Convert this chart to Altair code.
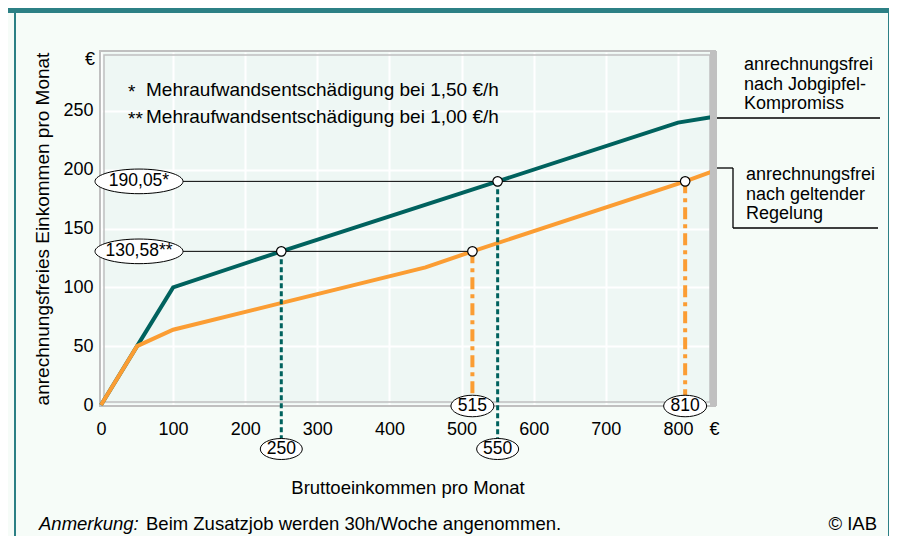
import altair as alt
import pandas as pd

# ---------------- data ----------------
teal_x = [0, 50, 100, 250, 550, 800, 850]
teal_y = [0, 50, 100, 130.58, 190.05, 240, 245]
orange_x = [0, 50, 100, 450, 515, 810, 850]
orange_y = [0, 50, 64, 117, 130.58, 190.05, 199]

ref_levels = [190.05, 130.58]
ref_labels = ["190,05*", "130,58**"]
ref_end_x = [810, 515]

teal_drop_x = [250, 550]
teal_drop_y = [130.58, 190.05]
teal_drop_labels = ["250", "550"]
orange_drop_x = [515, 810]
orange_drop_y = [130.58, 190.05]
orange_drop_labels = ["515", "810"]

x_ticks = [0, 100, 200, 300, 400, 500, 600, 700, 800, 850]
y_ticks = [0, 50, 100, 150, 200, 250]

note_marks = ["*", "**"]
note_lines = ["Mehraufwandsentschädigung bei 1,50 €/h",
              "Mehraufwandsentschädigung bei 1,00 €/h"]
right_text_1 = ["anrechnungsfrei", "nach Jobgipfel-", "Kompromiss"]
right_text_2 = ["anrechnungsfrei", "nach geltender", "Regelung"]

# ---------------- style ----------------
FONT = "Liberation Sans"
TEAL = "#00625e"
ORANGE = "#fb9d33"
FRAME = "#2c8085"
GRAYB = "#c0c0c0"
W, H = 613, 353

xs = alt.Scale(domain=[0, 850], nice=False, zero=False)
ys = alt.Scale(domain=[0, 300], nice=False, zero=False)

x_axis = alt.Axis(values=x_ticks, labelExpr="datum.value == 850 ? '€' : datum.label",
                  labelFontSize=18, labelPadding=15, labelFlush=False, labelOverlap=False,
                  ticks=False, domain=False, grid=True, gridColor="white", gridWidth=2,
                  title="Bruttoeinkommen pro Monat", titleFontSize=18.5, titleFontWeight="normal",
                  titleX=W / 2, titleY=82, titleBaseline="middle", titleAlign="center",
                  labelColor="black", titleColor="black", labelFont=FONT, titleFont=FONT)
y_axis = alt.Axis(values=y_ticks, labelFontSize=18, labelPadding=8, labelOverlap=False,
                  ticks=False, domain=False, grid=True, gridColor="white", gridWidth=2,
                  title="anrechnungsfreies Einkommen pro Monat", titleFontSize=19,
                  titleFontWeight="normal", titleX=-59, titleY=H / 2, titleAngle=270,
                  titleAlign="center", titleBaseline="middle",
                  labelColor="black", titleColor="black", labelFont=FONT, titleFont=FONT)


def X(field="x"):
    return alt.X(f"{field}:Q", scale=xs, axis=x_axis)


def Y(field="y"):
    return alt.Y(f"{field}:Q", scale=ys, axis=y_axis)


one = pd.DataFrame({"k": [0]})


def box(x, x2, y, y2, **kw):
    return alt.Chart(one).mark_rect(**kw).encode(
        x=alt.value(x), x2=alt.value(x2), y=alt.value(y), y2=alt.value(y2))


def seg(x, x2, y, y2, color="black", width=1.3):
    return alt.Chart(one).mark_rule(color=color, strokeWidth=width).encode(
        x=alt.value(x), x2=alt.value(x2), y=alt.value(y), y2=alt.value(y2))


def label(text, x, y, size=18, align="left", style="normal"):
    return alt.Chart(one).mark_text(text=text, font=FONT, fontSize=size, align=align,
                                    baseline="middle", color="black", fontStyle=style).encode(
        x=alt.value(x), y=alt.value(y))


# ---------------- layers ----------------
lines_df = pd.concat([
    pd.DataFrame({"x": teal_x, "y": teal_y, "s": "teal"}),
    pd.DataFrame({"x": orange_x, "y": orange_y, "s": "orange"}),
])

teal_line = alt.Chart(lines_df[lines_df.s == "teal"]).mark_line(
    color=TEAL, strokeWidth=4, strokeJoin="miter").encode(x=X(), y=Y())
orange_line = alt.Chart(lines_df[lines_df.s == "orange"]).mark_line(
    color=ORANGE, strokeWidth=4, strokeJoin="miter").encode(x=X(), y=Y())

ref_df = pd.DataFrame({"y": ref_levels, "x": ref_end_x, "lab": ref_labels})
ref_rules = alt.Chart(ref_df).mark_rule(color="black", strokeWidth=1).encode(
    x=X(), x2=alt.value(38), y=Y())

teal_df = pd.DataFrame({"x": teal_drop_x, "y": teal_drop_y, "lab": teal_drop_labels})
orange_df = pd.DataFrame({"x": orange_drop_x, "y": orange_drop_y, "lab": orange_drop_labels})

teal_drops = alt.Chart(teal_df).mark_rule(color=TEAL, strokeWidth=3, strokeDash=[5, 3]).encode(
    x=X(), y=Y(), y2=alt.value(387))
orange_drops = alt.Chart(orange_df).mark_rule(color=ORANGE, strokeWidth=4,
                                              strokeDash=[12, 5, 4, 5]).encode(
    x=X(), y=Y(), y2=alt.value(344))

pts_df = pd.concat([teal_df, orange_df])
points = alt.Chart(pts_df).mark_point(shape="circle", filled=True, fill="white", stroke="black",
                                      strokeWidth=1.2, size=90, opacity=1).encode(x=X(), y=Y())

ELL_WIDE = "M-1,0A1,0.28,0,1,1,1,0A1,0.28,0,1,1,-1,0Z"
ELL_SMALL = "M-1,0A1,0.5,0,1,1,1,0A1,0.5,0,1,1,-1,0Z"

ref_ell = alt.Chart(ref_df).mark_point(shape=ELL_WIDE, size=88 * 88, filled=True, fill="white",
                                       stroke="black", strokeWidth=1, opacity=1).encode(
    x=alt.value(38), y=Y())
ref_txt = alt.Chart(ref_df).mark_text(font=FONT, fontSize=17.5, color="black").encode(
    x=alt.value(38), y=Y(), text="lab:N")

teal_ell = alt.Chart(teal_df).mark_point(shape=ELL_SMALL, size=42 * 42, filled=True, fill="white",
                                         stroke="black", strokeWidth=1, opacity=1).encode(
    x=X(), y=alt.value(397))
teal_txt = alt.Chart(teal_df).mark_text(font=FONT, fontSize=17.5, color="black").encode(
    x=X(), y=alt.value(397), text="lab:N")
orange_ell = alt.Chart(orange_df).mark_point(shape=ELL_SMALL, size=43 * 43, filled=True,
                                             fill="white", stroke="black", strokeWidth=1,
                                             opacity=1).encode(x=X(), y=alt.value(354))
orange_txt = alt.Chart(orange_df).mark_text(font=FONT, fontSize=17.5, color="black").encode(
    x=X(), y=alt.value(354), text="lab:N")

# decorations
frame = box(-86, 788, -44, 520, fill="transparent", stroke=FRAME, strokeWidth=2)
top_band = box(-93, 790, -44, -39, fill=FRAME)
border_outer = box(-1, W + 1, -1, H + 1, fill="transparent", stroke=GRAYB, strokeWidth=2)
border_inner = box(3, W - 4, 3, H - 3, fill="transparent", stroke=GRAYB, strokeWidth=1.5)
right_bar = box(W - 4, W + 3, -1, H + 1, fill=GRAYB)

texts = [
    label("€", -16, 8),
    label(note_marks[0], 27, 40, size=19),
    label(note_marks[1], 27, 67, size=19),
    label(note_lines[0], 45, 38, size=19),
    label(note_lines[1], 45, 65, size=19),
    label("Anmerkung:", -62, 472, size=18.5, style="italic"),
    label("Beim Zusatzjob werden 30h/Woche angenommen.", 45, 472, size=18.5),
    label("© IAB", 776, 472, size=18.5, align="right"),
]
for i, t in enumerate(right_text_1):
    texts.append(label(t, 643, 13 + 19.5 * i, size=18))
for i, t in enumerate(right_text_2):
    texts.append(label(t, 645, 123 + 19.5 * i, size=18))

connectors = [
    seg(616, 779, 66, 66),
    seg(616, 632, 116, 116),
    seg(632, 632, 116, 176),
    seg(632, 777, 176, 176),
]

chart = alt.layer(
    frame, top_band, border_outer, border_inner,
    teal_line, orange_line, right_bar,
    ref_rules, teal_drops, orange_drops, points,
    ref_ell, ref_txt, teal_ell, teal_txt, orange_ell, orange_txt,
    *texts, *connectors,
).properties(
    width=W, height=H,
    background="#f6fcf8",
    padding={"left": 93, "top": 44, "right": 175, "bottom": 131},
    autosize=alt.AutoSizeParams(type="none"),
).configure_view(stroke="transparent", fill="#eef7f4")

chart.save("out.html", embed_options={"renderer": "svg", "actions": False})
